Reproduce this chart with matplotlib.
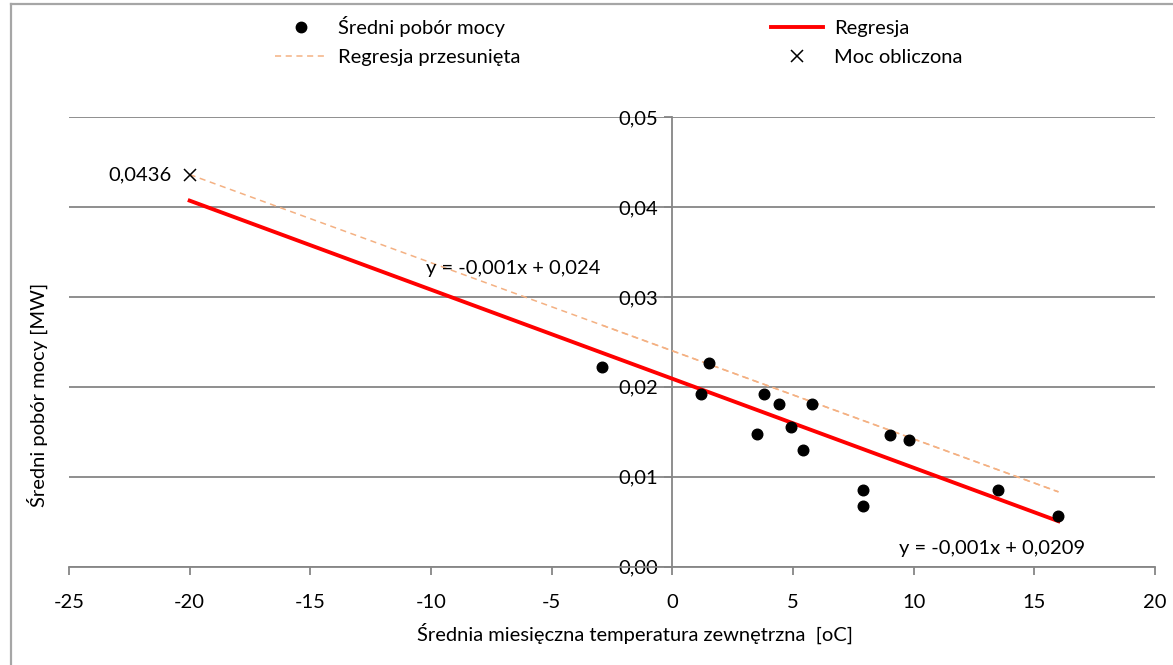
import numpy as np
import matplotlib
matplotlib.use("Agg")
import matplotlib.pyplot as plt
from matplotlib.lines import Line2D
from matplotlib.ticker import FuncFormatter, MultipleLocator

# measured monthly data
temps = [-2.9, 1.5, 1.2, 3.8, 4.4, 5.8, 3.5, 4.9, 5.4, 9.0, 9.8, 7.9, 7.9, 13.5, 16.0]
power = [0.0222, 0.0226, 0.0192, 0.0192, 0.0181, 0.0181, 0.0147, 0.0155, 0.0130,
         0.0146, 0.0141, 0.0085, 0.0067, 0.0085, 0.0056]

# regression (as shown on the chart) and the shifted one
reg_slope = -0.00099
reg_intercept = 0.0209
shift_slope = -0.00098
shift_intercept = 0.024
line_x = [-20, 16]

# computed design power
calc_t = -20
calc_p = 0.0436
calc_label = "0,0436"

eq_reg = "y = -0,001x + 0,0209"
eq_shift = "y = -0,001x + 0,024"

FONT = "Lato"
FS = 14.5
GRAY = "#868686"
ORANGE = "#F4B183"

plt.rcParams["font.family"] = [FONT, "DejaVu Sans"]
plt.rcParams["axes.unicode_minus"] = False

W, H = 1173, 665
fig = plt.figure(figsize=(W / 100, H / 100), dpi=100)
ax = fig.add_axes([69 / W, 1 - 566.7 / H, (1155 - 69) / W, (566.7 - 117) / H])

# outer chart border (only left and top are visible)
fig.add_artist(Line2D([11 / W, 11 / W], [1 - 4 / H, 0], transform=fig.transFigure,
                      color="#A6A6A6", lw=1.6))
fig.add_artist(Line2D([11 / W, 1], [1 - 4 / H, 1 - 4 / H], transform=fig.transFigure,
                      color="#A6A6A6", lw=1.6))

lx = np.array(line_x, dtype=float)
sx = np.array([min(temps), max(temps)])

ax.plot(lx, shift_slope * lx + shift_intercept, color=ORANGE, lw=1.1,
        dashes=(4, 3), zorder=3)
ax.plot(sx, shift_slope * sx + shift_intercept, color=ORANGE, lw=1.1,
        dashes=(4, 3), dash_capstyle="butt", zorder=3)
ax.plot(lx, reg_slope * lx + reg_intercept, color="#FF0000", lw=2.8, zorder=4)
ax.scatter(temps, power, s=58, color="black", zorder=5)
ax.plot([calc_t], [calc_p], marker="x", color="black", markersize=9,
        markeredgewidth=1.1, linestyle="none", zorder=5)

ax.annotate(calc_label, (calc_t, calc_p), xytext=(-13, 0), textcoords="offset points",
            ha="right", va="center", fontsize=FS)
ax.text(-10.2, 0.0332, eq_shift, ha="left", va="center", fontsize=FS)
ax.text(9.4, 0.0020, eq_reg, ha="left", va="center", fontsize=FS)

ax.set_xlim(-25, 20)
ax.set_ylim(0, 0.05)
ax.xaxis.set_major_locator(MultipleLocator(5))
ax.yaxis.set_major_locator(MultipleLocator(0.01))
ax.yaxis.set_major_formatter(FuncFormatter(lambda v, p: f"{v:.2f}".replace(".", ",")))
ax.xaxis.set_major_formatter(FuncFormatter(lambda v, p: f"{v:.0f}"))

ax.grid(axis="y", color=GRAY, lw=1.3)
ax.set_axisbelow(True)
for s in ["top", "right"]:
    ax.spines[s].set_visible(False)
ax.spines["left"].set_position(("data", 0))
ax.spines["left"].set_color(GRAY)
ax.spines["bottom"].set_color(GRAY)
ax.spines["left"].set_linewidth(1.3)
ax.spines["bottom"].set_linewidth(1.3)
ax.tick_params(axis="x", length=6, width=1.3, color=GRAY, pad=14, labelsize=FS)
ax.tick_params(axis="y", length=6, width=1.3, color=GRAY, pad=4, labelsize=FS)

ax.set_xlabel("Średnia miesięczna temperatura zewnętrzna  [oC]", fontsize=FS)
ax.xaxis.set_label_coords(0.521, (566.7 - 623) / (566.7 - 117))
ax.set_ylabel("Średni pobór mocy [MW]", fontsize=FS)
ax.yaxis.set_label_coords(-0.0195, 0.382)

handles = [
    Line2D([], [], marker="o", color="black", linestyle="none", markersize=7.5),
    Line2D([], [], color=ORANGE, lw=1.1, dashes=(4, 3)),
    Line2D([], [], color="#FF0000", lw=2.8),
    Line2D([], [], marker="x", color="black", linestyle="none", markersize=9,
           markeredgewidth=1.1),
]
labels = ["Średni pobór mocy", "Regresja przesunięta", "Regresja", "Moc obliczona"]
fig.legend(handles, labels, ncol=2, loc="upper left",
           bbox_to_anchor=(275 / W, 1 - 16 / H), frameon=False, fontsize=FS,
           borderpad=0, borderaxespad=0, handlelength=2.6, handletextpad=0.55,
           columnspacing=12.4, labelspacing=0.6)

fig.savefig("out.png", dpi=100)
